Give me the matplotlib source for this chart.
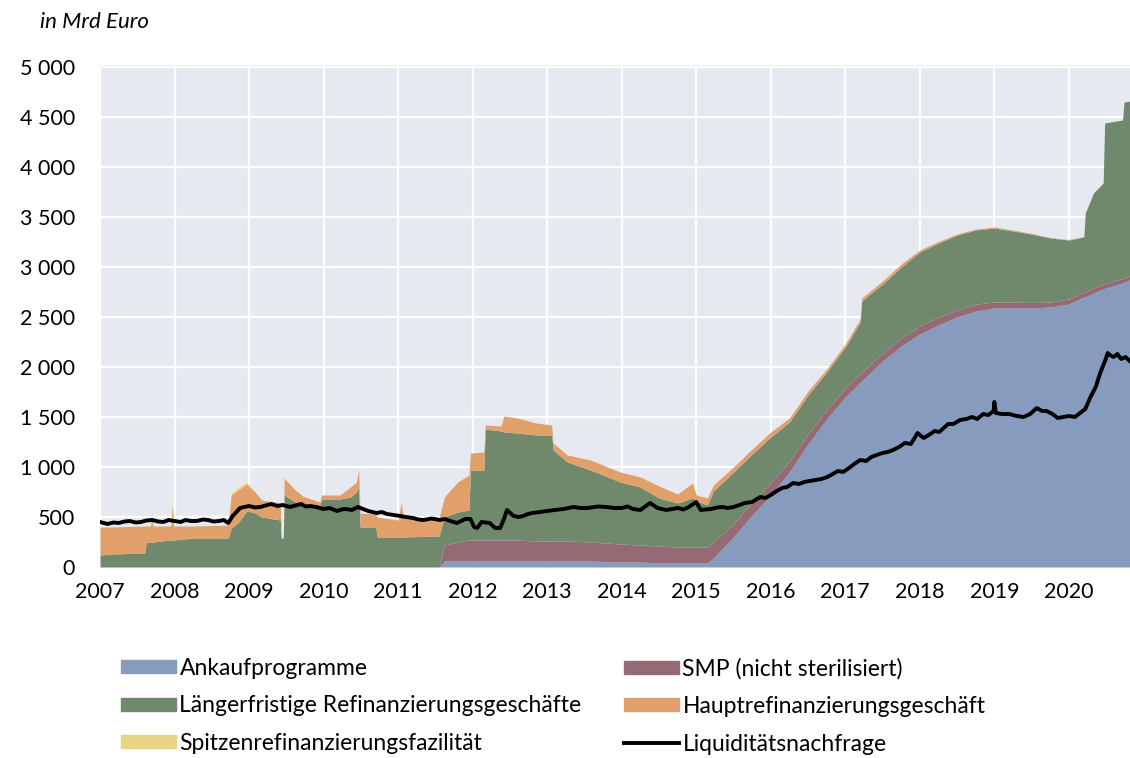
import numpy as np
import matplotlib
matplotlib.use("Agg")
import matplotlib.pyplot as plt
from matplotlib.patches import Patch
from matplotlib.lines import Line2D
from matplotlib.ticker import FuncFormatter, MultipleLocator

plt.rcParams['font.family'] = ['Lato', 'DejaVu Sans']

# Liquiditätsbereitstellung in Mrd Euro (Stichtage als Dezimaljahre)
dates = [2007.00, 2007.16, 2007.60, 2007.62, 2007.68, 2007.69, 2007.71, 2007.95, 2007.97, 2007.99,
         2008.25, 2008.72, 2008.76, 2008.85, 2008.97, 2009.08, 2009.17, 2009.42, 2009.43, 2009.46,
         2009.47, 2009.62, 2009.72, 2009.95, 2009.97, 2010.22, 2010.36, 2010.44, 2010.47, 2010.49,
         2010.70, 2010.72, 2011.00, 2011.04, 2011.07, 2011.55, 2011.62, 2011.80, 2011.95, 2011.97,
         2012.15, 2012.17, 2012.38, 2012.42, 2012.60, 2012.85, 2013.06, 2013.08, 2013.27, 2013.58,
         2013.98, 2014.25, 2014.50, 2014.75, 2014.95, 2015.00, 2015.15, 2015.23, 2015.50, 2015.75,
         2016.00, 2016.25, 2016.50, 2016.75, 2017.00, 2017.20, 2017.22, 2017.50, 2017.75, 2018.00,
         2018.25, 2018.50, 2018.75, 2019.00, 2019.25, 2019.50, 2019.75, 2020.00, 2020.20, 2020.22,
         2020.33, 2020.46, 2020.48, 2020.72, 2020.74, 2020.83]

ankauf = [0, 0, 0, 0, 0, 0, 0, 0, 0, 0,
          0, 0, 0, 0, 0, 0, 0, 0, 0, 0,
          0, 0, 0, 0, 0, 0, 0, 0, 0, 0,
          0, 0, 0, 0, 0, 0, 60, 60, 60, 60,
          60, 60, 60, 60, 60, 60, 60, 60, 60, 60,
          50, 50, 40, 40, 40, 40, 40, 90, 300, 520,
          720, 950, 1230, 1480, 1700, 1850, 1860, 2060, 2210, 2330,
          2420, 2500, 2560, 2590, 2590, 2590, 2600, 2630, 2700, 2700,
          2740, 2780, 2785, 2840, 2845, 2880]

smp = [0, 0, 0, 0, 0, 0, 0, 0, 0, 0,
       0, 0, 0, 0, 0, 0, 0, 0, 0, 0,
       0, 0, 0, 0, 0, 0, 0, 0, 0, 0,
       0, 0, 0, 0, 0, 0, 160, 190, 210, 210,
       210, 210, 210, 210, 210, 200, 200, 200, 200, 190,
       180, 170, 170, 160, 160, 160, 160, 160, 130, 130,
       120, 110, 100, 90, 90, 85, 85, 80, 80, 80,
       80, 70, 70, 60, 60, 55, 50, 50, 50, 50,
       50, 50, 50, 45, 45, 40]

ltro = [120, 130, 140, 250, 250, 250, 250, 270, 270, 270,
        290, 290, 390, 440, 560, 540, 500, 470, 290, 290,
        720, 650, 610, 600, 680, 680, 700, 750, 800, 400,
        400, 300, 300, 300, 300, 310, 280, 300, 300, 700,
        700, 1110, 1090, 1080, 1070, 1060, 1060, 910, 790, 720,
        620, 580, 480, 440, 490, 460, 420, 510, 520, 480,
        460, 390, 390, 380, 410, 515, 715, 690, 710, 740,
        740, 750, 740, 740, 710, 685, 640, 590, 550, 790,
        950, 1010, 1605, 1585, 1760, 1740]

mro = [280, 270, 270, 160, 160, 270, 160, 140, 350, 140,
       120, 130, 330, 330, 270, 210, 170, 170, 0, 0,
       170, 120, 100, 50, 40, 40, 100, 100, 170, 140,
       130, 200, 170, 340, 190, 180, 200, 300, 350, 170,
       180, 40, 50, 160, 150, 120, 100, 70, 70, 100,
       100, 100, 120, 90, 150, 60, 70, 60, 50, 50,
       50, 40, 40, 30, 30, 30, 30, 30, 30, 20,
       15, 10, 10, 10, 10, 5, 5, 5, 5, 5,
       0, 0, 0, 0, 0, 0]

spitzen = [0, 0, 0, 0, 0, 0, 0, 0, 0, 0,
           0, 0, 20, 20, 20, 0, 0, 0, 0, 0,
           0, 0, 0, 0, 0, 0, 0, 0, 10, 0,
           0, 0, 0, 10, 0, 0, 0, 0, 0, 0,
           0, 0, 0, 0, 0, 0, 0, 0, 0, 0,
           0, 0, 0, 0, 0, 0, 0, 0, 0, 0,
           0, 0, 0, 0, 0, 0, 0, 0, 0, 0,
           0, 0, 0, 0, 0, 0, 0, 0, 0, 0,
           0, 0, 0, 0, 0, 0]

# Liquiditätsnachfrage
nachfrage_dates = [2007.00, 2007.05, 2007.10, 2007.18, 2007.25, 2007.33, 2007.40, 2007.48, 2007.55, 2007.62,
                   2007.70, 2007.78, 2007.85, 2007.92, 2008.00, 2008.08, 2008.15, 2008.22, 2008.30, 2008.38,
                   2008.45, 2008.52, 2008.60, 2008.66, 2008.72, 2008.78, 2008.88, 2009.00, 2009.08, 2009.15,
                   2009.22, 2009.30, 2009.38, 2009.45, 2009.55, 2009.62, 2009.70, 2009.76, 2009.82, 2009.90,
                   2010.00, 2010.08, 2010.18, 2010.24, 2010.30, 2010.38, 2010.46, 2010.53, 2010.60, 2010.71,
                   2010.78, 2010.85, 2010.94, 2011.03, 2011.10, 2011.20, 2011.27, 2011.34, 2011.45, 2011.56,
                   2011.63, 2011.70, 2011.79, 2011.90, 2011.97, 2012.02, 2012.06, 2012.12, 2012.23, 2012.30,
                   2012.37, 2012.42, 2012.46, 2012.55, 2012.62, 2012.68, 2012.74, 2012.80, 2012.90, 2013.00,
                   2013.10, 2013.22, 2013.35, 2013.45, 2013.55, 2013.68, 2013.80, 2013.90, 2014.00, 2014.08,
                   2014.15, 2014.25, 2014.38, 2014.48, 2014.60, 2014.68, 2014.75, 2014.83, 2014.90, 2015.00,
                   2015.06, 2015.12, 2015.20, 2015.28, 2015.35, 2015.42, 2015.50, 2015.58, 2015.65, 2015.75,
                   2015.86, 2015.93, 2016.00, 2016.08, 2016.15, 2016.22, 2016.30, 2016.38, 2016.45, 2016.52,
                   2016.60, 2016.68, 2016.76, 2016.83, 2016.90, 2016.97, 2017.05, 2017.12, 2017.20, 2017.28,
                   2017.35, 2017.42, 2017.50, 2017.57, 2017.64, 2017.72, 2017.80, 2017.88, 2017.97, 2018.05,
                   2018.12, 2018.20, 2018.26, 2018.32, 2018.38, 2018.45, 2018.54, 2018.62, 2018.70, 2018.77,
                   2018.85, 2018.92, 2018.99, 2019.00, 2019.02, 2019.10, 2019.20, 2019.30, 2019.39, 2019.48,
                   2019.57, 2019.64, 2019.70, 2019.78, 2019.85, 2019.93, 2020.00, 2020.08, 2020.15, 2020.22,
                   2020.29, 2020.36, 2020.42, 2020.49, 2020.52, 2020.55, 2020.60, 2020.65, 2020.70, 2020.76,
                   2020.83]
nachfrage = [450, 440, 430, 445, 440, 455, 460, 445, 450, 465,
             470, 455, 450, 470, 460, 450, 470, 460, 460, 475,
             470, 455, 460, 470, 440, 510, 590, 610, 595, 600,
             615, 630, 610, 620, 600, 615, 630, 605, 610, 600,
             580, 590, 560, 575, 580, 570, 600, 580, 560, 540,
             550, 530, 520, 510, 500, 490, 475, 470, 485, 470,
             480, 460, 440, 480, 480, 400, 390, 450, 440, 390,
             390, 480, 570, 510, 500, 510, 530, 540, 550, 560,
             570, 580, 600, 590, 590, 605, 600, 590, 590, 605,
             580, 570, 640, 590, 570, 580, 590, 575, 600, 650,
             570, 575, 580, 595, 600, 590, 600, 620, 640, 650,
             700, 690, 720, 760, 790, 800, 840, 830, 850, 860,
             870, 880, 900, 930, 960, 950, 990, 1030, 1070, 1060,
             1100, 1120, 1140, 1150, 1170, 1200, 1240, 1230, 1340, 1290,
             1320, 1360, 1350, 1390, 1430, 1430, 1470, 1480, 1500, 1480,
             1530, 1520, 1560, 1650, 1540, 1530, 1530, 1510, 1500, 1530,
             1590, 1560, 1560, 1530, 1490, 1500, 1510, 1500, 1540, 1580,
             1700, 1800, 1940, 2070, 2140, 2120, 2100, 2130, 2080, 2100,
             2050]

labels = ['Ankaufprogramme', 'SMP (nicht sterilisiert)', 'Längerfristige Refinanzierungsgeschäfte',
          'Hauptrefinanzierungsgeschäft', 'Spitzenrefinanzierungsfazilität']
colors = ['#879BBE', '#966A75', '#70896C', '#E1A06A', '#E8D482']

fig = plt.figure(figsize=(11.30, 7.58), dpi=100)
ax = fig.add_axes([100 / 1130, 191 / 758, 1030 / 1130, 502 / 758])
ax.set_facecolor('#E6E9F0')

x = np.array(dates)
base = np.zeros(len(x))
for vals, col in zip([ankauf, smp, ltro, mro, spitzen], colors):
    top = base + np.array(vals, dtype=float)
    ax.fill_between(x, base, top, color=col, linewidth=0, zorder=2)
    base = top

ax.plot(nachfrage_dates, nachfrage, color='black', linewidth=2.8, zorder=3)

ax.set_xlim(2007, 2020.82)
ax.set_ylim(0, 5020)
ax.set_xticks(range(2007, 2021))
ax.yaxis.set_major_locator(MultipleLocator(500))
ax.yaxis.set_major_formatter(FuncFormatter(lambda v, p: f"{int(v):,}".replace(",", " ")))
ax.grid(True, color='white', linewidth=1.6, zorder=1)
ax.set_axisbelow(True)
for s in ax.spines.values():
    s.set_visible(False)
ax.tick_params(axis='both', length=0, labelsize=15.5)
ax.tick_params(axis='y', pad=18)
ax.tick_params(axis='x', pad=11)

fig.text(40 / 1130, 1 - 22 / 758, 'in Mrd Euro', fontsize=16, style='italic', va='center', ha='left')

# Legende in zwei Spalten
handles_l = [Patch(color=colors[0]), Patch(color=colors[2]), Patch(color=colors[4])]
labels_l = [labels[0], labels[2], labels[4]]
handles_r = [Patch(color=colors[1]), Patch(color=colors[3]),
             Line2D([0], [0], color='black', linewidth=2.8)]
labels_r = [labels[1], labels[3], 'Liquiditätsnachfrage']
kw = dict(frameon=False, fontsize=16.5, handlelength=2.4, handleheight=0.5,
          handletextpad=0.15, labelspacing=0.72, loc='upper left', borderaxespad=0, borderpad=0)
fig.legend(handles_l, labels_l, bbox_to_anchor=(121 / 1130, 1 - 658 / 758), **kw)
fig.legend(handles_r, labels_r, bbox_to_anchor=(624 / 1130, 1 - 658 / 758), **kw)

fig.savefig('out.png', dpi=100)
